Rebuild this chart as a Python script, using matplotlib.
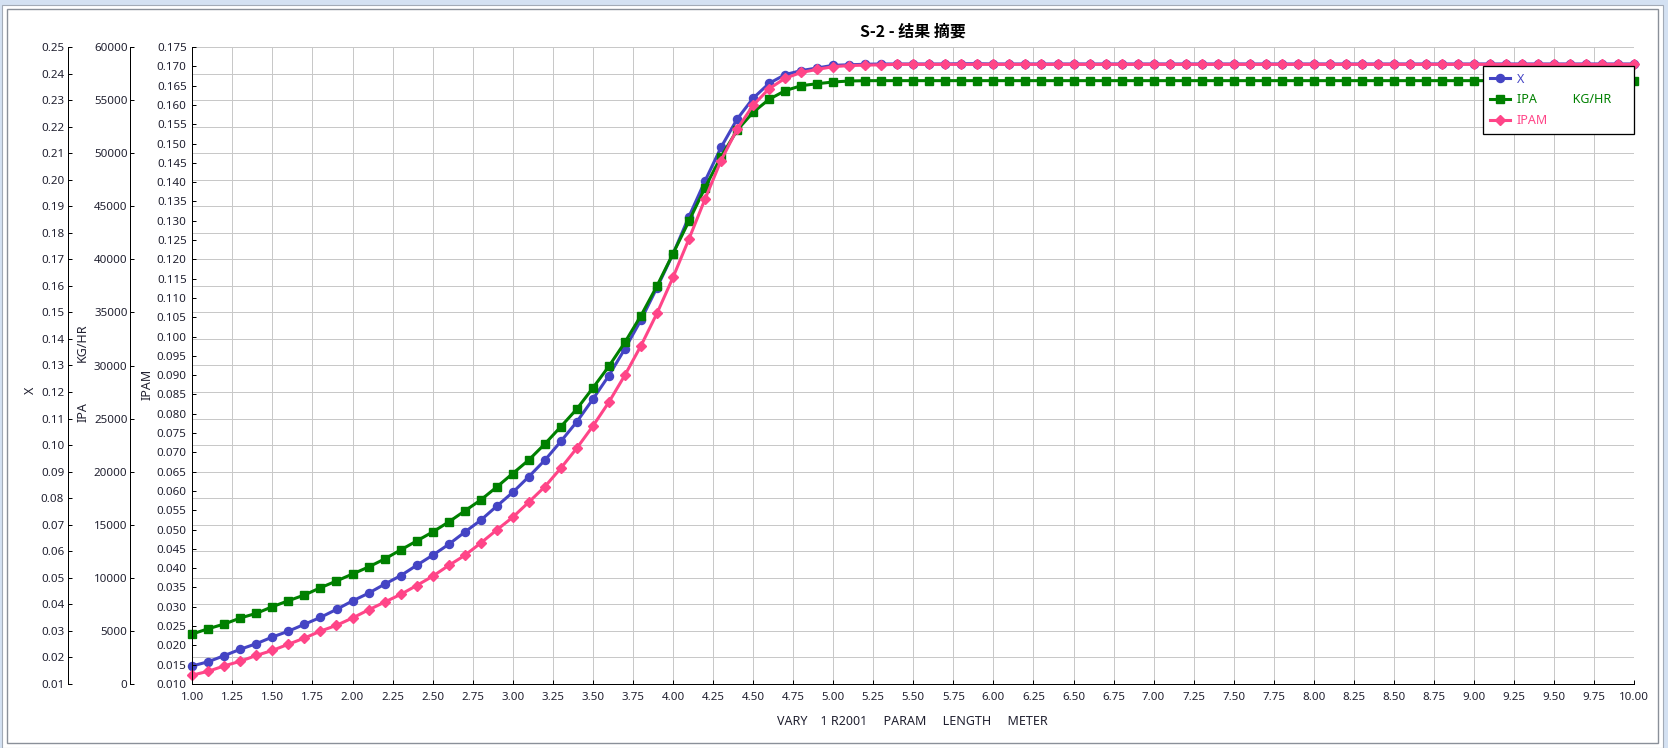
import matplotlib
matplotlib.use("Agg")
import matplotlib.pyplot as plt
from matplotlib.patches import Rectangle
from matplotlib.lines import Line2D
from matplotlib.ticker import FixedLocator, FormatStrFormatter

plt.rcParams['font.family'] = ['Noto Sans', 'Noto Sans CJK SC', 'DejaVu Sans']

# ---------------- data ----------------
length_m = [1.0, 1.1, 1.2, 1.3, 1.4, 1.5, 1.6, 1.7, 1.8, 1.9,
            2.0, 2.1, 2.2, 2.3, 2.4, 2.5, 2.6, 2.7, 2.8, 2.9,
            3.0, 3.1, 3.2, 3.3, 3.4, 3.5, 3.6, 3.7, 3.8, 3.9,
            4.0, 4.1, 4.2, 4.3, 4.4, 4.5, 4.6, 4.7, 4.8, 4.9,
            5.0, 5.1, 5.2, 5.3, 5.4, 5.5, 5.6, 5.7, 5.8, 5.9,
            6.0, 6.1, 6.2, 6.3, 6.4, 6.5, 6.6, 6.7, 6.8, 6.9,
            7.0, 7.1, 7.2, 7.3, 7.4, 7.5, 7.6, 7.7, 7.8, 7.9,
            8.0, 8.1, 8.2, 8.3, 8.4, 8.5, 8.6, 8.7, 8.8, 8.9,
            9.0, 9.1, 9.2, 9.3, 9.4, 9.5, 9.6, 9.7, 9.8, 9.9,
            10.0]

x_frac = [0.0168, 0.0184, 0.0207, 0.0231, 0.0252, 0.0277, 0.0299, 0.0325, 0.0351, 0.0381,
          0.0413, 0.0442, 0.0476, 0.0508, 0.0547, 0.0585, 0.0626, 0.0672, 0.0717, 0.0770,
          0.0822, 0.0881, 0.0943, 0.1014, 0.1088, 0.1173, 0.1262, 0.1363, 0.1471, 0.1593,
          0.1720, 0.1861, 0.1995, 0.2122, 0.2228, 0.2307, 0.2363, 0.2396, 0.2411, 0.2421,
          0.2431, 0.2433, 0.2435,
          0.2436, 0.2436, 0.2436, 0.2436, 0.2436, 0.2437, 0.2437, 0.2436,
          0.2436, 0.2436, 0.2436, 0.2436, 0.2436, 0.2436, 0.2436, 0.2436,
          0.2436, 0.2436, 0.2436, 0.2436, 0.2436, 0.2436, 0.2436, 0.2436,
          0.2436, 0.2436, 0.2436, 0.2436, 0.2436, 0.2436, 0.2436, 0.2436,
          0.2436, 0.2436, 0.2436, 0.2436, 0.2436, 0.2436, 0.2436, 0.2436,
          0.2436, 0.2436, 0.2436, 0.2436, 0.2436, 0.2436, 0.2436, 0.2436]

ipa_kghr = [4710, 5209, 5651, 6217, 6659, 7281, 7846, 8383, 9071, 9702,
            10361, 11020, 11774, 12622, 13469, 14317, 15259, 16295, 17331, 18556,
            19827, 21099, 22606, 24236, 25903, 27881, 29925, 32185, 34691, 37488,
            40531, 43611, 46747, 49667, 52154, 53849, 55074, 55884, 56355, 56543,
            56703, 56797, 56827,
            56830, 56830, 56830, 56830, 56830, 56830, 56830, 56830,
            56830, 56830, 56830, 56830, 56830, 56830, 56830, 56830,
            56830, 56830, 56830, 56830, 56830, 56830, 56830, 56830,
            56830, 56830, 56830, 56830, 56830, 56830, 56830, 56830,
            56830, 56830, 56830, 56830, 56830, 56830, 56830, 56830,
            56830, 56830, 56830, 56830, 56830, 56830, 56830, 56830]

ipam = [0.0123, 0.0133, 0.0147, 0.0159, 0.0174, 0.0187, 0.0203, 0.0219, 0.0237, 0.0252,
        0.0271, 0.0292, 0.0312, 0.0332, 0.0355, 0.0379, 0.0407, 0.0433, 0.0465, 0.0499,
        0.0532, 0.0571, 0.0611, 0.0659, 0.0711, 0.0768, 0.0830, 0.0900, 0.0976, 0.1060,
        0.1153, 0.1253, 0.1356, 0.1456, 0.1537, 0.1599, 0.1642, 0.1669, 0.1684, 0.1692,
        0.1699, 0.1702, 0.1703,
        0.1704, 0.1705, 0.1705, 0.1705, 0.1705, 0.1705, 0.1705, 0.1705,
        0.1705, 0.1705, 0.1705, 0.1705, 0.1705, 0.1705, 0.1705, 0.1705,
        0.1705, 0.1705, 0.1705, 0.1705, 0.1705, 0.1705, 0.1705, 0.1705,
        0.1705, 0.1705, 0.1705, 0.1705, 0.1705, 0.1705, 0.1705, 0.1705,
        0.1705, 0.1705, 0.1705, 0.1705, 0.1705, 0.1705, 0.1705, 0.1705,
        0.1705, 0.1705, 0.1705, 0.1705, 0.1705, 0.1705, 0.1705, 0.1705]

x_ticks = [1.0 + 0.25 * i for i in range(37)]
x_axis_ticks = [0.01 * i for i in range(1, 26)]
ipa_ticks = [5000 * i for i in range(13)]
ipam_ticks = [0.010 + 0.005 * i for i in range(34)]

title = "S-2 - 结果 摘要"
xlabel = "VARY    1 R2001     PARAM     LENGTH     METER"

# ---------------- layout ----------------
W, H = 1668, 748
DPI = 100
fig = plt.figure(figsize=(W / DPI, H / DPI), dpi=DPI)
fig.patch.set_facecolor('#d4e1f2')

def fx(px):
    return px / W

def fy(py):
    return 1 - py / H

# window frame
bg = fig.add_axes([0, 0, 1, 1], zorder=-10)
bg.set_xlim(0, W)
bg.set_ylim(H, 0)
bg.axis('off')
bg.add_patch(Rectangle((2, 4.5), 1661, 743, facecolor='white', edgecolor='#a3abb7', lw=0.8))
bg.add_patch(Rectangle((7.3, 9.3), 1651, 734, facecolor='white', edgecolor='#8a9099', lw=1.0))

L, R, T, B = 192.3, 1634.3, 47.0, 684.0
rect = [fx(L), fy(B), (R - L) / W, (B - T) / H]

ax = fig.add_axes(rect, zorder=1)
ax2 = ax.twinx()
ax3 = ax.twinx()
ax2.set_zorder(2)
ax3.set_zorder(3)
for a in (ax2, ax3):
    a.patch.set_visible(False)

tick_col = '#202030'
fs = 8.3
fs_lab = 9.0
px2pt = 72.0 / DPI

C_X = '#4444c4'
C_IPA = '#008000'
C_IPAM = '#ff4588'

lw = 2.2
ax.plot(length_m, x_frac, color=C_X, lw=lw, marker='o', ms=5.8, clip_on=False)
ax2.plot(length_m, ipa_kghr, color=C_IPA, lw=lw, marker='s', ms=5.6, clip_on=False)
ax3.plot(length_m, ipam, color=C_IPAM, lw=lw, marker='D', ms=5.0, clip_on=False)

ax.set_xlim(1.0, 10.0)
ax.set_ylim(0.01, 0.25)
ax2.set_ylim(0, 60000)
ax3.set_ylim(0.010, 0.175)

ax.xaxis.set_major_locator(FixedLocator(x_ticks))
ax.xaxis.set_major_formatter(FormatStrFormatter('%.2f'))
ax.yaxis.set_major_locator(FixedLocator(x_axis_ticks))
ax.yaxis.set_major_formatter(FormatStrFormatter('%.2f'))
ax2.yaxis.set_major_locator(FixedLocator(ipa_ticks))
ax2.yaxis.set_major_formatter(FormatStrFormatter('%d'))
ax3.yaxis.set_major_locator(FixedLocator(ipam_ticks))
ax3.yaxis.set_major_formatter(FormatStrFormatter('%.3f'))

ax.grid(True, color='#c8c8c8', lw=1.0 * px2pt)
ax.set_axisbelow(True)

# spines
for a in (ax, ax2, ax3):
    for s in ('top', 'right'):
        a.spines[s].set_visible(False)
for a in (ax2, ax3):
    a.spines['bottom'].set_visible(False)
    a.yaxis.tick_left()
    a.yaxis.set_label_position('left')
    a.spines['left'].set_visible(True)

ax.spines['left'].set_position(('outward', (L - 67.7) * px2pt))
ax2.spines['left'].set_position(('outward', (L - 130.3) * px2pt))
for a in (ax, ax2, ax3):
    for s in ('left', 'bottom'):
        a.spines[s].set_color('black')
        a.spines[s].set_linewidth(1.0 * px2pt)

ax.tick_params(axis='y', direction='in', length=4 * px2pt, width=1 * px2pt,
               colors='black', labelcolor=tick_col, labelsize=fs, pad=2.5)
ax2.tick_params(axis='y', direction='in', length=4 * px2pt, width=1 * px2pt,
                colors='black', labelcolor=tick_col, labelsize=fs, pad=2.0)
ax3.tick_params(axis='y', direction='in', length=4 * px2pt, width=1 * px2pt,
                colors='black', labelcolor=tick_col, labelsize=fs, pad=4.0)
ax.tick_params(axis='x', direction='in', length=4 * px2pt, width=1 * px2pt,
               colors='black', labelcolor=tick_col, labelsize=fs, pad=6.0)

# axis labels
fig.text(fx(30.7), fy(390), "X", rotation=90, ha='center', va='center', fontsize=fs_lab, color=tick_col)
fig.text(fx(82.7), fy(343), "KG/HR", rotation=90, ha='center', va='center', fontsize=fs_lab, color=tick_col)
fig.text(fx(82.7), fy(411.7), "IPA", rotation=90, ha='center', va='center', fontsize=fs_lab, color=tick_col)
fig.text(fx(146.7), fy(384), "IPAM", rotation=90, ha='center', va='center', fontsize=fs_lab, color=tick_col)

fig.text(fx(913), fy(32), title, ha='center', va='center', fontsize=11.5, fontweight='bold',
         color='black', family=['Noto Sans CJK SC', 'DejaVu Sans'])
fig.text(fx(912), fy(721.7), xlabel, ha='center', va='center', fontsize=fs_lab, color=tick_col)

# legend
handles = [Line2D([], [], color=C_X, lw=lw, marker='o', ms=5.8),
           Line2D([], [], color=C_IPA, lw=lw, marker='s', ms=5.6),
           Line2D([], [], color=C_IPAM, lw=lw, marker='D', ms=5.0)]
labels = ["X", "IPA           KG/HR     ", "IPAM"]
leg = fig.legend(handles, labels, loc='upper right',
                 bbox_to_anchor=(fx(R), fy(65.7)), borderaxespad=0,
                 prop={'size': fs_lab}, frameon=True, fancybox=False, framealpha=1,
                 edgecolor='black', handlelength=1.6, handletextpad=0.55,
                 borderpad=0.55, labelspacing=0.62, labelcolor='linecolor')
leg.get_frame().set_linewidth(1.0 * px2pt * 1.3)
leg.set_zorder(10)

fig.savefig("out.png", dpi=DPI)
